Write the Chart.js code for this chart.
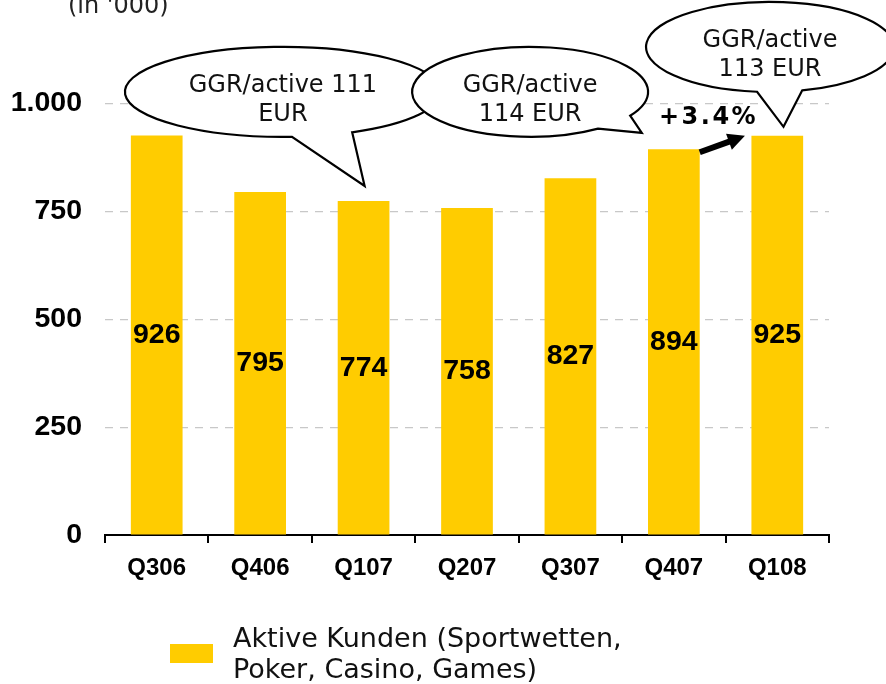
<!DOCTYPE html>
<html>
<head>
<meta charset="utf-8">
<script src="https://cdn.jsdelivr.net/npm/chart.js@4.4.1/dist/chart.umd.min.js"></script>
<style>
html,body{margin:0;padding:0;background:#fff;}
#wrap{width:886px;height:684px;position:relative;}
</style>
</head>
<body>
<div id="wrap"><canvas id="c" width="886" height="684"></canvas></div>
<script>
// ---- data ----
const categories = ['Q306', 'Q406', 'Q107', 'Q207', 'Q307', 'Q407', 'Q108'];
const activeCustomers = [926, 795, 774, 758, 827, 894, 925];
const yTickValues = [0, 250, 500, 750, 1000];
const seriesLabelLines = ['Aktive Kunden (Sportwetten,', 'Poker, Casino, Games)'];
const unitNote = "(in '000)";
const growthLabel = '+3.4%';
// callouts: text lines, centre [category index, value], tail tip [category index, value], tail base angles (deg)
const calloutLines = [['GGR/active 111', 'EUR'], ['GGR/active', '114 EUR'], ['GGR/active', '113 EUR']];
const calloutCenters = [[1.22, 1027], [3.61, 1027], [5.93, 1131]];
const calloutTips = [[2.01, 809], [4.69, 932], [6.06, 946]];
const calloutTailAngles = [[86.7, 64], [54.8, 32], [96, 75]];
const calloutRadii = [[158, 45], [118, 45], [124, 45]];

const BAR_COLOR = '#FFCC00';
const BOLD_FONT = "'Liberation Sans', Arial, sans-serif";
const TEXT_FONT = "'DejaVu Sans', Verdana, sans-serif";

function fmtDe(v) {
  return String(v).replace(/\B(?=(\d{3})+(?!\d))/g, '.');
}

const valueLabels = {
  id: 'valueLabels',
  afterDatasetsDraw(chart) {
    const ctx = chart.ctx;
    const meta = chart.getDatasetMeta(0);
    ctx.save();
    ctx.font = `bold 28.5px ${BOLD_FONT}`;
    ctx.fillStyle = '#000';
    ctx.textAlign = 'center';
    ctx.textBaseline = 'middle';
    meta.data.forEach((bar, i) => {
      ctx.fillText(String(activeCustomers[i]), bar.x, (bar.y + bar.base) / 2);
    });
    ctx.restore();
  }
};

function drawCallout(ctx, cx, cy, rx, ry, a1, a2, tx, ty) {
  const r = Math.PI / 180;
  ctx.beginPath();
  ctx.ellipse(cx, cy, rx, ry, 0, a1 * r, a2 * r, false);
  ctx.lineTo(tx, ty);
  ctx.closePath();
  ctx.fillStyle = '#fff';
  ctx.fill();
  ctx.lineWidth = 2.2;
  ctx.strokeStyle = '#000';
  ctx.lineJoin = 'miter';
  ctx.stroke();
}

function drawArrow(ctx, x1, y1, x2, y2) {
  const ang = Math.atan2(y2 - y1, x2 - x1);
  const hl = 17, hw = 8.5;
  const bx = x2 - hl * Math.cos(ang), by = y2 - hl * Math.sin(ang);
  ctx.strokeStyle = '#000';
  ctx.fillStyle = '#000';
  ctx.lineWidth = 6;
  ctx.lineCap = 'butt';
  ctx.beginPath();
  ctx.moveTo(x1, y1);
  ctx.lineTo(bx + Math.cos(ang), by + Math.sin(ang));
  ctx.stroke();
  ctx.beginPath();
  ctx.moveTo(x2, y2);
  ctx.lineTo(bx + hw * Math.sin(ang), by - hw * Math.cos(ang));
  ctx.lineTo(bx - hw * Math.sin(ang), by + hw * Math.cos(ang));
  ctx.closePath();
  ctx.fill();
}

const annotations = {
  id: 'annotations',
  afterDraw(chart) {
    const ctx = chart.ctx;
    const xs = chart.scales.x, ys = chart.scales.y;
    ctx.save();
    // callouts
    calloutLines.forEach((lines, k) => {
      const cx = xs.getPixelForValue(calloutCenters[k][0]);
      const cy = ys.getPixelForValue(calloutCenters[k][1]);
      const tx = xs.getPixelForValue(calloutTips[k][0]);
      const ty = ys.getPixelForValue(calloutTips[k][1]);
      drawCallout(ctx, cx, cy, calloutRadii[k][0], calloutRadii[k][1],
        calloutTailAngles[k][0], calloutTailAngles[k][1], tx, ty);
      ctx.fillStyle = '#111';
      ctx.font = `24px ${TEXT_FONT}`;
      ctx.textAlign = 'center';
      ctx.textBaseline = 'alphabetic';
      const capHalf = 24 * 0.729 / 2;
      ctx.fillText(lines[0], cx, cy - 8.5 + capHalf);
      ctx.fillText(lines[1], cx, cy + 20 + capHalf);
    });
    // growth arrow between last two bars
    const meta = chart.getDatasetMeta(0);
    const b1 = meta.data[5], b2 = meta.data[6];
    drawArrow(ctx, b1.x + b1.width / 2, b1.y + 3, b2.x - b2.width / 2 - 6.5, b2.y);
    ctx.font = `bold 24px ${TEXT_FONT}`;
    ctx.letterSpacing = '2.5px';
    ctx.fillStyle = '#000';
    ctx.textAlign = 'center';
    ctx.textBaseline = 'alphabetic';
    ctx.fillText(growthLabel, (b1.x + b2.x) / 2 - 17, ys.getPixelForValue(973) + 8.7);
    ctx.letterSpacing = '0px';
    // unit note
    ctx.font = `24px ${TEXT_FONT}`;
    ctx.fillStyle = '#222';
    ctx.textAlign = 'left';
    ctx.fillText(unitNote, 68, 13);
    // legend
    ctx.fillStyle = BAR_COLOR;
    ctx.fillRect(170, 644, 43, 19);
    ctx.fillStyle = '#111';
    ctx.font = `27px ${TEXT_FONT}`;
    ctx.fillText(seriesLabelLines[0], 233, 647);
    ctx.fillText(seriesLabelLines[1], 233, 678);
    ctx.restore();
  }
};

new Chart(document.getElementById('c'), {
  type: 'bar',
  data: {
    labels: categories,
    datasets: [{
      label: seriesLabelLines.join(' '),
      data: activeCustomers,
      backgroundColor: BAR_COLOR,
      borderWidth: 0,
      barPercentage: 0.5,
      categoryPercentage: 1.0
    }]
  },
  options: {
    responsive: false,
    animation: false,
    devicePixelRatio: 1,
    layout: { padding: { top: 103.5, left: 0, right: 57, bottom: 89 } },
    plugins: { legend: { display: false }, tooltip: { enabled: false }, title: { display: false } },
    scales: {
      x: {
        offset: true,
        grid: { offset: true, drawOnChartArea: false, drawTicks: true, tickLength: 8, color: '#000', lineWidth: 2 },
        border: { display: true, color: '#000', width: 2 },
        ticks: { color: '#000', font: { family: BOLD_FONT, weight: 'bold', size: 24 }, padding: 11, maxRotation: 0 },
        afterFit(s) { s.height = 60; }
      },
      y: {
        min: 0,
        max: 1000,
        afterBuildTicks(s) { s.ticks = yTickValues.map(v => ({ value: v })); },
        grid: {
          color: c => (c.tick && c.tick.value === 0) ? 'rgba(0,0,0,0)' : '#c8c8c8',
          lineWidth: 1.2,
          drawTicks: false
        },
        border: { display: false, dash: [8, 7] },
        ticks: { color: '#000', font: { family: BOLD_FONT, weight: 'bold', size: 28.5 }, padding: 23, callback: v => fmtDe(v) },
        afterFit(s) { s.width = 105; }
      }
    }
  },
  plugins: [valueLabels, annotations]
});
</script>
</body>
</html>
